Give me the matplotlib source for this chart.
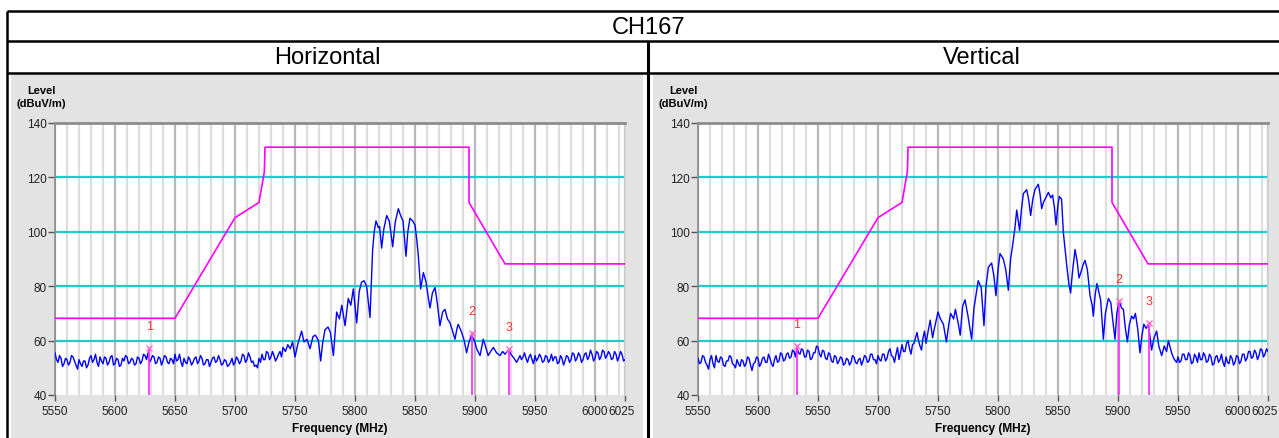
import numpy as np
import matplotlib
matplotlib.use("Agg")
import matplotlib.pyplot as plt
from matplotlib.ticker import MultipleLocator, FixedLocator
from matplotlib.transforms import ScaledTranslation

plt.rcParams['font.family'] = ['Liberation Sans', 'DejaVu Sans']

W, H = 1279, 439

# ---------------- data ----------------
title = "CH167"
panel_titles = ["Horizontal", "Vertical"]
x_ticks = [5550, 5600, 5650, 5700, 5750, 5800, 5850, 5900, 5950, 6000, 6025]
y_ticks = [40, 60, 80, 100, 120, 140]

# limit mask (dBuV/m)
limit_freq = [5550, 5650, 5700, 5720, 5724.5, 5725, 5895, 5895, 5925, 6025]
limit_level = [68.2, 68.2, 105.2, 110.8, 122.2, 131.1, 131.1, 110.8, 88.2, 88.2]

# sweep step for the noise-floor stretches (MHz)
floor_step = 1.25

# Horizontal polarisation
h_floor_lo_start = 5550.0
h_floor_lo = [55.5, 53.0, 52.0, 54.5, 53.5, 50.5, 51.5, 53.5, 53.0, 51.0,
              52.0, 54.5, 54.0, 52.5, 51.0, 49.5, 53.0, 51.5, 50.5, 52.5,
              52.5, 50.0, 51.0, 53.5, 54.5, 52.0, 53.0, 55.0, 52.0, 50.5,
              54.0, 52.5, 51.5, 54.0, 53.5, 51.0, 52.0, 54.0, 54.5, 51.0,
              51.5, 53.5, 53.0, 50.5, 51.0, 53.5, 52.5, 54.5, 54.0, 51.5,
              52.0, 53.5, 53.0, 51.0, 51.5, 54.0, 53.5, 51.5, 52.5, 55.0,
              54.5, 53.0, 55.5, 52.0, 53.0, 54.5, 54.0, 51.5, 52.0, 54.0,
              53.5, 51.0, 52.5, 54.5, 54.0, 52.0, 51.5, 53.5, 53.0, 51.5,
              55.0, 52.5, 53.0, 55.0, 52.0, 50.5, 53.5, 52.0, 51.5, 54.0,
              53.0, 51.0, 52.0, 53.5, 54.0, 51.5, 52.5, 54.5, 53.5, 51.0,
              51.5, 53.0, 53.0, 50.5, 52.0, 53.5, 54.0, 52.0, 52.5, 54.5,
              53.0, 51.0, 51.5, 53.0, 52.5, 50.5, 51.0, 52.0, 53.5, 51.0,
              52.0, 54.0, 53.0, 51.5, 52.5, 55.0, 54.5, 52.0, 53.0, 55.5,
              54.0, 52.0, 52.5, 50.5, 51.0, 50.0, 53.5, 52.0, 55.0, 53.0,
              53.0, 56.0, 55.5, 53.0, 54.0, 56.0, 54.5, 52.5, 53.5, 55.0,
              56.0, 54.0, 57.5]
h_band_freq = [5742, 5744, 5746, 5748, 5750, 5752.5, 5755.5, 5757.5, 5760, 5762.5,
               5765, 5767, 5769.5, 5771.4, 5773, 5775, 5777.5, 5779.5, 5782, 5784.7,
               5787, 5789, 5791.7, 5794.4, 5796.5, 5798.6, 5801.4, 5803.5, 5805.5, 5807.5,
               5809.7, 5812.5, 5814.7, 5816, 5817.5, 5819.5, 5820.5, 5822.2, 5824, 5826.4,
               5828.5, 5829.5, 5831.4, 5833.5, 5836.1, 5838, 5840, 5842.5, 5844, 5845.8,
               5848, 5850, 5851.5, 5852.8, 5854.7, 5857, 5859.2, 5861, 5862.5, 5864.5,
               5866.7, 5868.5, 5870.8, 5873, 5875, 5877, 5879.2, 5881, 5883.3, 5885,
               5886, 5888.9, 5891, 5893, 5895, 5897.2, 5899.5, 5901.4, 5904.2, 5906.9,
               5909, 5911, 5913, 5915.3, 5918, 5920.8, 5923, 5925, 5927.8, 5930,
               5932.5, 5934.7]
h_band_level = [56.0, 58.5, 57.0, 59.5, 54.0, 59.0, 63.5, 59.5, 60.5, 57.0,
                61.5, 62.0, 60.0, 52.5, 59.0, 64.0, 65.0, 63.0, 54.5, 70.5,
                68.0, 73.0, 65.5, 75.5, 73.0, 79.0, 66.5, 78.0, 81.5, 82.0,
                80.0, 68.5, 93.5, 100.0, 104.0, 101.5, 102.0, 94.0, 101.0, 106.0,
                104.0, 101.0, 94.5, 103.5, 108.5, 106.0, 104.0, 91.0, 100.0, 105.0,
                104.0, 102.5, 97.0, 91.0, 79.0, 85.0, 81.5, 76.0, 72.0, 77.5,
                79.5, 74.0, 65.5, 70.5, 71.5, 68.0, 66.5, 64.0, 60.5, 64.5,
                66.0, 63.0, 60.0, 55.5, 59.5, 62.0, 60.0, 57.0, 54.5, 60.5,
                57.5, 54.5, 56.0, 57.5, 55.5, 54.5, 56.0, 55.0, 56.5, 55.0,
                53.5, 52.0]
h_floor_hi_start = 5937.5
h_floor_hi = [54.5, 53.0, 54.0, 55.5, 53.5, 52.0, 54.0, 55.0, 53.0, 51.5,
              54.5, 52.5, 53.5, 55.0, 54.0, 52.0, 52.5, 54.5, 54.0, 52.0,
              53.0, 55.0, 52.5, 54.0, 54.0, 51.5, 52.0, 54.5, 53.5, 51.0,
              52.5, 54.5, 54.0, 52.0, 53.0, 55.5, 55.0, 52.5, 53.5, 55.5,
              54.5, 52.0, 53.0, 55.0, 55.5, 53.0, 54.0, 56.5, 55.0, 52.5,
              53.5, 56.0, 55.5, 53.0, 54.0, 56.5, 56.0, 53.5, 54.5, 56.0,
              55.0, 53.0, 53.5, 56.0, 55.0, 52.5, 54.0, 56.0, 55.0, 52.5,
              53.0]
h_marker_freq = [5628.6, 5897.5, 5928.0]
h_marker_level = [57.2, 62.8, 56.9]

# Vertical polarisation
v_floor_lo_start = 5550.0
v_floor_lo = [53.5, 51.5, 52.0, 54.5, 54.0, 52.0, 51.0, 49.5, 53.0, 54.5,
              51.5, 50.0, 54.5, 52.5, 52.0, 54.0, 53.5, 51.0, 50.5, 52.5,
              52.5, 54.5, 54.0, 51.5, 51.0, 50.0, 53.0, 51.5, 50.5, 53.0,
              52.5, 50.5, 51.5, 54.0, 53.5, 51.0, 49.0, 51.5, 52.0, 54.0,
              53.5, 50.5, 51.5, 53.5, 54.0, 52.0, 52.0, 55.0, 53.5, 51.5,
              50.5, 53.0, 54.5, 52.0, 52.5, 55.5, 55.0, 52.5, 53.0, 55.0,
              55.5, 53.5, 54.0, 56.5, 56.0, 54.0, 57.5, 55.5, 55.0, 57.0,
              56.5, 54.0, 54.0, 56.5, 56.0, 53.0, 53.5, 55.5, 55.5, 58.0,
              57.5, 55.0, 54.0, 56.5, 56.0, 53.5, 53.0, 55.5, 55.0, 52.5,
              52.0, 54.5, 54.0, 51.5, 52.5, 54.0, 53.5, 51.0, 51.5, 53.5,
              53.0, 51.0, 52.0, 54.5, 54.0, 52.0, 51.5, 53.0, 53.5, 51.0,
              52.5, 54.5, 54.0, 52.0, 52.5, 55.0, 55.0, 53.0, 53.0, 51.5,
              54.5, 53.0, 52.5, 55.0, 55.0, 52.5, 53.5, 56.0, 57.0, 54.5,
              54.0, 52.0, 55.0, 57.5, 53.0, 55.5, 58.5, 56.0, 56.0, 59.0,
              60.0, 57.0, 55.0, 58.5, 59.0, 61.0, 63.0, 60.0, 58.0, 56.5,
              61.0, 63.5, 59.0]
v_band_freq = [5742, 5743.5, 5745.5, 5747, 5750, 5752, 5754.5, 5757, 5759, 5760.5,
               5763, 5764.5, 5767, 5768.5, 5770.5, 5772.5, 5775, 5778, 5780, 5783.5,
               5786, 5788.3, 5790, 5792, 5794.7, 5796.5, 5798.3, 5800, 5801.7, 5804.4,
               5806.5, 5808.6, 5810.5, 5812.2, 5814, 5815.6, 5818, 5819.5, 5821.1, 5823.9,
               5825.5, 5827.2, 5829, 5830.8, 5833.6, 5835, 5836.4, 5838, 5839.2, 5842,
               5844, 5845.5, 5847, 5848.3, 5850, 5851.1, 5853, 5854.4, 5856, 5857.2,
               5859, 5860.5, 5862, 5864.2, 5866, 5867.5, 5869, 5871, 5872.5, 5874.5,
               5876.7, 5878.5, 5879.4, 5881, 5882.5, 5884, 5885.5, 5887.8, 5889.5, 5892,
               5894, 5895.5, 5897.5, 5899, 5901, 5903, 5904.5, 5906, 5907.8, 5909.5,
               5911.4, 5913, 5914.5, 5916.5, 5918.3, 5920, 5921.5, 5923.5, 5925.3, 5926.5,
               5928, 5930, 5932.2, 5934, 5936.4, 5938.5, 5940.5, 5942, 5943.5, 5945,
               5947, 5948.9]
v_band_level = [64.0, 67.5, 61.0, 64.5, 70.5, 68.0, 66.0, 59.5, 66.0, 70.0,
                68.0, 71.5, 66.0, 62.0, 72.5, 75.0, 69.0, 60.5, 72.0, 82.0,
                79.5, 65.5, 80.0, 87.0, 88.5, 84.0, 76.5, 86.0, 92.0, 90.0,
                86.0, 78.5, 90.0, 95.0, 101.0, 108.0, 100.5, 108.0, 114.0, 115.5,
                112.0, 106.0, 112.0, 115.5, 117.5, 114.0, 108.5, 111.0, 112.0, 114.5,
                112.5, 113.5, 109.0, 102.5, 110.0, 113.0, 112.0, 100.0, 93.0, 88.0,
                81.0, 77.5, 85.0, 93.5, 89.0, 83.0, 85.0, 88.0, 89.5, 86.0,
                76.5, 73.0, 69.0, 77.0, 81.0, 78.0, 75.0, 60.5, 70.0, 75.5,
                74.0, 68.0, 60.5, 70.0, 74.5, 72.0, 71.5, 65.0, 59.5, 66.0,
                69.0, 68.0, 70.0, 64.0, 55.5, 62.0, 66.0, 64.5, 66.0, 62.0,
                56.5, 61.0, 63.5, 58.0, 54.5, 58.0, 56.0, 60.0, 57.5, 55.0,
                53.0, 52.0]
v_floor_hi_start = 5950.0
v_floor_hi = [54.0, 52.0, 52.5, 55.0, 55.0, 53.0, 53.0, 55.5, 54.5, 51.5,
              52.0, 55.0, 54.0, 52.0, 55.5, 53.0, 53.0, 55.5, 54.5, 52.0,
              52.5, 55.0, 54.0, 51.0, 51.5, 54.0, 54.5, 52.0, 53.0, 55.0,
              52.0, 50.5, 54.0, 52.0, 51.5, 54.5, 53.5, 51.0, 52.0, 54.5,
              54.0, 51.5, 52.5, 55.0, 55.0, 52.5, 53.5, 56.0, 56.0, 53.5,
              54.0, 56.5, 55.5, 53.0, 54.5, 57.0, 56.5, 54.0, 55.0, 57.0,
              56.0]
v_marker_freq = [5632.5, 5901.0, 5925.5]
v_marker_level = [58.1, 74.6, 66.5]


def sweep(lo_start, lo_vals, band_f, band_v, hi_start, hi_vals):
    f_lo = lo_start + floor_step * np.arange(len(lo_vals))
    f_hi = hi_start + floor_step * np.arange(len(hi_vals))
    f = np.concatenate([f_lo, np.asarray(band_f, float), f_hi])
    v = np.concatenate([np.asarray(lo_vals, float), np.asarray(band_v, float),
                        np.asarray(hi_vals, float)])
    return f, v


traces = [
    sweep(h_floor_lo_start, h_floor_lo, h_band_freq, h_band_level, h_floor_hi_start, h_floor_hi),
    sweep(v_floor_lo_start, v_floor_lo, v_band_freq, v_band_level, v_floor_hi_start, v_floor_hi),
]
markers = [(h_marker_freq, h_marker_level), (v_marker_freq, v_marker_level)]

# ---------------- layout (pixels) ----------------
fig = plt.figure(figsize=(W / 100, H / 100), dpi=100)
bg = fig.add_axes([0, 0, 1, 1], zorder=0)
bg.set_xlim(0, W)
bg.set_ylim(H, 0)
bg.axis('off')

PANEL_GRAY = '#e3e3e3'
panels = [(11, 643), (653, W)]
plot_boxes = [(55, 625), (698, 1268)]
PY0, PY1 = 124, 396

for (px0, px1) in panels:
    bg.add_patch(plt.Rectangle((px0, 76), px1 - px0, H - 76, color=PANEL_GRAY, lw=0))

# table rules
lk = dict(color='black', lw=1.8, solid_capstyle='butt')
bg.plot([7, W], [12, 12], **lk)
bg.plot([7, W], [42, 42], **lk)
bg.plot([7, W], [73.5, 73.5], **lk)
bg.plot([7, 7], [12, H], **lk)
bg.plot([648, 648], [42, H], color='black', lw=2.2, solid_capstyle='butt')

bg.text(649, 27.5, title, ha='center', va='center', fontsize=17)
bg.text(327, 58.5, panel_titles[0], ha='center', va='center', fontsize=17)
bg.text(982, 58.5, panel_titles[1], ha='center', va='center', fontsize=17)

axes = []
for (px0, px1), (bx0, bx1), (f, v), (mf, ml) in zip(panels, plot_boxes, traces, markers):
    bg.text(px0 + 30, 91, "Level", ha='center', va='center', fontsize=8, fontweight='bold')
    bg.text(px0 + 30, 104, "(dBuV/m)", ha='center', va='center', fontsize=8, fontweight='bold')
    bg.text((bx0 + bx1) / 2, 429, "Frequency (MHz)", ha='center', va='center',
            fontsize=8.6, fontweight='bold')

    ax = fig.add_axes([bx0 / W, 1 - PY1 / H, (bx1 - bx0) / W, (PY1 - PY0) / H], zorder=1)
    axes.append(ax)
    ax.set_facecolor('white')
    ax.set_xlim(5550, 6025)
    ax.set_ylim(40, 140)
    ax.xaxis.set_major_locator(FixedLocator(x_ticks))
    ax.xaxis.set_minor_locator(MultipleLocator(10))
    ax.set_yticks(y_ticks)
    ax.grid(axis='x', which='minor', color='#dedede', lw=1.6)
    ax.grid(axis='x', which='major', color='#b8b8b8', lw=1.6)
    ax.grid(axis='y', which='major', color='#1ecccc', lw=1.6)
    ygl = ax.yaxis.get_gridlines()
    ygl[0].set_visible(False)
    ygl[-1].set_visible(False)
    ax.set_axisbelow(True)

    ax.spines['bottom'].set_visible(False)
    ax.spines['top'].set_color('#8c8c8c')
    ax.spines['top'].set_linewidth(2)
    ax.spines['left'].set_color('#8c8c8c')
    ax.spines['left'].set_linewidth(1.2)
    ax.spines['right'].set_color('#d0d0d0')
    ax.spines['right'].set_linewidth(1.2)

    ax.tick_params(axis='x', which='major', direction='out', length=4, width=1,
                   color='#555555', labelsize=8.5, pad=3, labelcolor='#222222')
    ax.tick_params(axis='x', which='minor', length=0)
    ax.tick_params(axis='y', direction='out', length=5, width=1, color='#555555',
                   labelsize=8.5, pad=1, labelcolor='#222222')

    ax.plot(limit_freq, limit_level, color='#ff00ff', lw=1.2, zorder=3)
    ax.plot(f, v, color='#0000ff', lw=1.0, zorder=4)

    ax.vlines(mf, 40, ml, color='#ff33ff', lw=1.3, zorder=5)
    ax.plot(mf, ml, 'x', color='#ff66cc', ms=4.5, mew=1.0, zorder=6)
    for i, (x, y) in enumerate(zip(mf, ml), start=1):
        ax.annotate(str(i), (x, y), xytext=(0, 16), textcoords='offset points',
                    ha='center', va='center', color='#ff3030', fontsize=9)

# nudge the right-most frequency label inward so it stays on the canvas
fig.canvas.draw()
for ax in axes:
    last = ax.xaxis.get_major_ticks()[-1].label1
    last.set_transform(last.get_transform() + ScaledTranslation(-3 / 100, 0, fig.dpi_scale_trans))

fig.savefig("out.png", dpi=100)
